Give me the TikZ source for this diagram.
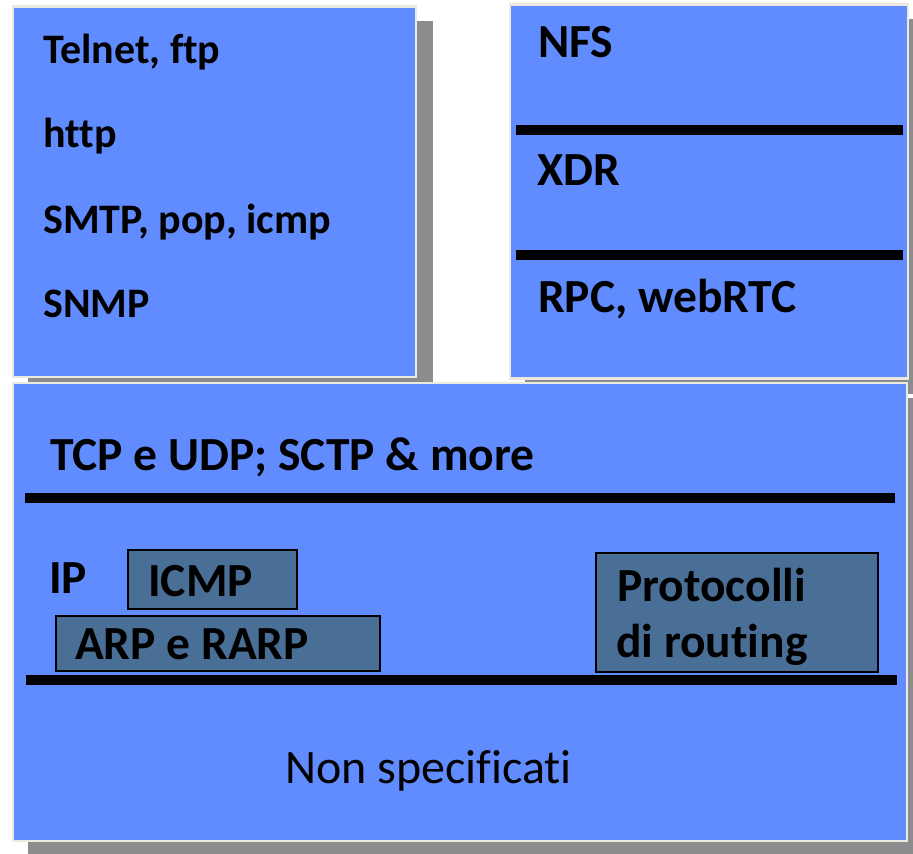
\documentclass[tikz,border=0pt]{standalone}
\usepackage{fontspec}
\setmainfont{Carlito}[Ligatures=NoCommon]
\definecolor{layerblue}{HTML}{608CFF}
\definecolor{rimbeige}{HTML}{ECE9E0}
\definecolor{shadowgray}{HTML}{8C8C8C}
\definecolor{slatebox}{HTML}{4A6F96}
\tikzset{
  layer/.style={fill=layerblue, draw=rimbeige, line width=2.5pt},
  shade/.style={fill=shadowgray, draw=none},
  sep/.style={line width=10pt, draw=black},
  inner/.style={fill=slatebox, draw=black, line width=2pt},
  lbl/.style={anchor=base west, inner sep=0pt, font=\fontsize{42}{50}\selectfont\bfseries},
  biglbl/.style={anchor=base west, inner sep=0pt, font=\fontsize{47.5}{57}\selectfont\bfseries},
  plainlbl/.style={anchor=base west, inner sep=0pt, font=\fontsize{48}{58}\selectfont},
}
\begin{document}
\begin{tikzpicture}[x=1pt,y=-1pt]
\useasboundingbox (0,0) rectangle (913,854);
% left box
\fill[shade] (28,21) rectangle (433,394);
\draw[layer] (13,6.5) rectangle (416,377);
% right box
\fill[shade] (525,19) rectangle (925,394);
\draw[layer] (510,4.5) rectangle (908,378.5);
% bottom box
\fill[shade] (28,398) rectangle (925,858);
\draw[layer] (13,383) rectangle (907,841);

% left box texts
\node[lbl] (telnet) at (43,63) {Telnet, ftp};
\node[lbl] (http) at (43,147) {http};
\node[lbl] (smtp) at (43,233) {SMTP, pop, icmp};
\node[lbl] (snmp) at (43,317) {SNMP};

% right box
\draw[sep] (516,130) -- (903,130);
\draw[sep] (516,254.5) -- (903,254.5);
\node[biglbl] (nfs) at (538,57) {NFS};
\node[biglbl] (xdr) at (537,185) {XDR};
\node[biglbl] (rpc) at (538,312) {RPC, webRTC};

% bottom box
\node[biglbl] (tcp) at (50,470) {TCP e UDP; SCTP \& more};
\draw[sep] (25,498) -- (895,498);
\node[biglbl] (ip) at (49,593) {IP};
\draw[inner] (128,550) rectangle (297,609);
\node[biglbl] (icmp) at (148,596) {ICMP};
\draw[inner] (56,616) rectangle (380,671);
\node[biglbl] (arp) at (75,659) {ARP e RARP};
\draw[inner] (596,553) rectangle (878,672);
\node[biglbl] (prot1) at (617,601) {Protocolli};
\node[biglbl] (prot2) at (616,657) {di routing};
\draw[sep] (26,680) -- (897,680);
\node[plainlbl] (nonspec) at (285,783) {Non specificati};
\end{tikzpicture}
\end{document}
